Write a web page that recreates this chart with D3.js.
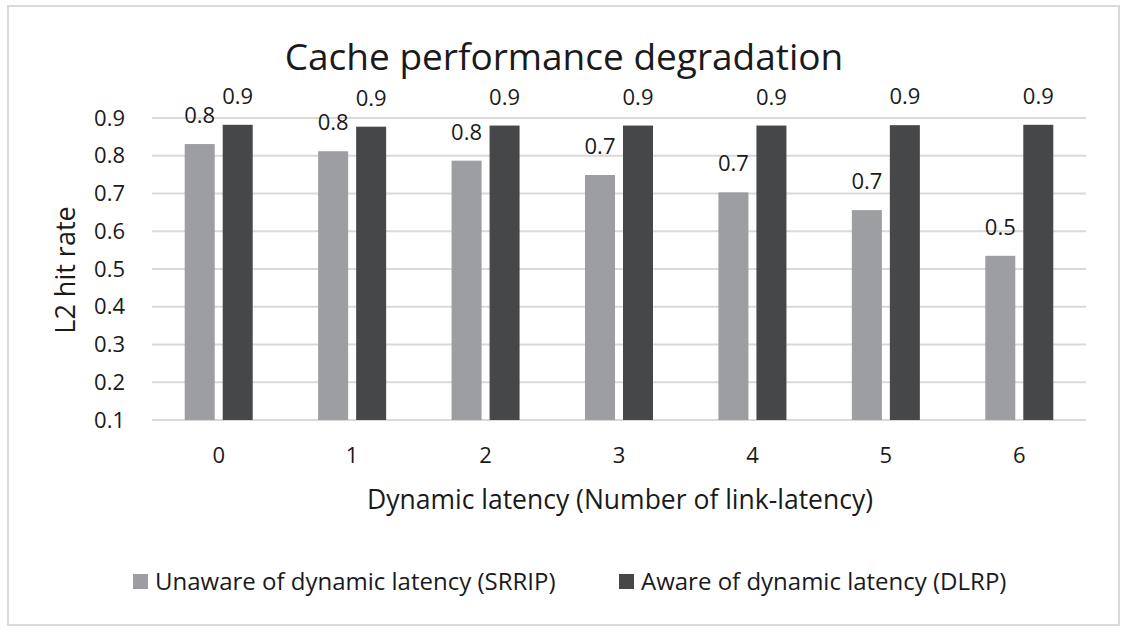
<!DOCTYPE html>
<html>
<head>
<meta charset="utf-8">
<script src="https://cdn.jsdelivr.net/npm/d3@7"></script>
<style>
  body { margin: 0; background: #fff; }
  text { font-family: "Open Sans", sans-serif; fill: #1a1a1a; }
</style>
</head>
<body>
<div id="chart"></div>
<script>
// chart data
var categories = ["0", "1", "2", "3", "4", "5", "6"];
var seriesNames = ["Unaware of dynamic latency (SRRIP)", "Aware of dynamic latency (DLRP)"];
var unaware = [0.831, 0.812, 0.787, 0.749, 0.703, 0.656, 0.535];
var aware = [0.882, 0.877, 0.880, 0.880, 0.880, 0.881, 0.882];
var yTicks = [0.1, 0.2, 0.3, 0.4, 0.5, 0.6, 0.7, 0.8, 0.9];
var colors = ["#9d9ea1", "#464749"];

var W = 1126, H = 632;
var margin = { top: 118, right: 40, bottom: 212, left: 152 };
var width = W - margin.left - margin.right;
var height = H - margin.top - margin.bottom;

var svg = d3.select("#chart")
	.append("svg")
	.attr("width", W)
	.attr("height", H);

// outer frame
svg.append("rect")
	.attr("x", 8).attr("y", 6)
	.attr("width", 1111).attr("height", 619)
	.attr("fill", "#fff")
	.attr("stroke", "#d9d9d9")
	.attr("stroke-width", 2);

var g = svg.append("g")
	.attr("transform", "translate(" + margin.left + "," + margin.top + ")");

var x = d3.scaleBand().domain(categories).range([0, width]);
var y = d3.scaleLinear().domain([0.1, 0.9]).range([height, 0]);

// gridlines
g.selectAll(".grid")
	.data(yTicks)
	.enter()
	.append("line")
	.attr("x1", 0).attr("x2", width)
	.attr("y1", d => y(d)).attr("y2", d => y(d))
	.attr("stroke", "#d9d9d9")
	.attr("stroke-width", 2);

// y axis labels
var yAxis = d3.axisLeft(y).tickValues(yTicks).tickFormat(d3.format(".1f")).tickSize(0).tickPadding(27);
g.append("g").call(yAxis)
	.call(a => a.select(".domain").remove())
	.selectAll("text")
	.style("font-size", "22px")
	.attr("fill", "#1a1a1a");

// x axis labels
var xAxis = d3.axisBottom(x).tickSize(0).tickPadding(27);
g.append("g")
	.attr("transform", "translate(0," + height + ")")
	.call(xAxis)
	.call(a => a.select(".domain").remove())
	.selectAll("text")
	.style("font-size", "22px")
	.attr("fill", "#1a1a1a");

var series = [unaware, aware];
var barW = 30, gap = 8;

series.forEach((vals, si) => {
	var off = si == 0 ? -gap / 2 - barW : gap / 2;
	g.selectAll(".bar" + si)
		.data(vals)
		.enter()
		.append("rect")
		.attr("class", "bar" + si)
		.attr("x", (d, i) => x(categories[i]) + x.bandwidth() / 2 + off)
		.attr("y", d => y(d))
		.attr("width", barW)
		.attr("height", d => height - y(d))
		.attr("fill", colors[si]);

	g.selectAll(".lbl" + si)
		.data(vals)
		.enter()
		.append("text")
		.attr("class", "lbl" + si)
		.attr("x", (d, i) => x(categories[i]) + x.bandwidth() / 2 + off + barW / 2)
		.attr("y", d => y(d) - 21)
		.attr("text-anchor", "middle")
		.style("font-size", "22px")
		.text(d => d3.format(".1f")(d));
});

// title
svg.append("text")
	.attr("x", 564).attr("y", 70)
	.attr("text-anchor", "middle")
	.style("font-size", "37px")
	.text("Cache performance degradation");

// axis titles
svg.append("text")
	.attr("transform", "translate(75,270) rotate(-90)")
	.attr("text-anchor", "middle")
	.style("font-size", "27px")
	.text("L2 hit rate");

svg.append("text")
	.attr("x", 620).attr("y", 509)
	.attr("text-anchor", "middle")
	.style("font-size", "26.5px")
	.text("Dynamic latency (Number of link-latency)");

// legend
var legendX = [133, 619];
var legend = svg.selectAll(".legend")
	.data(seriesNames)
	.enter()
	.append("g")
	.attr("transform", (d, i) => "translate(" + legendX[i] + ",574)");
legend.append("rect")
	.attr("width", 15).attr("height", 15)
	.attr("fill", (d, i) => colors[i]);
legend.append("text")
	.attr("x", 22).attr("y", 16)
	.style("font-size", "24px")
	.text(d => d);
</script>
</body>
</html>
